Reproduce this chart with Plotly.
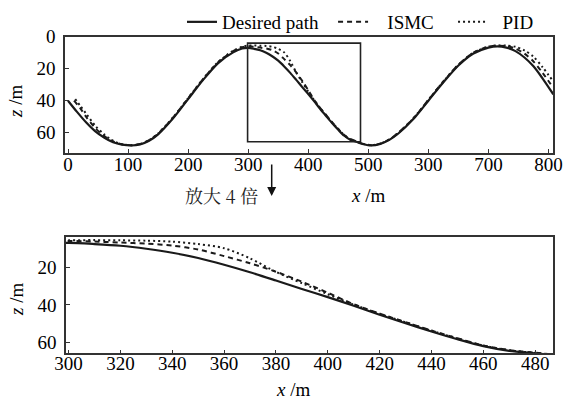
import plotly.graph_objects as go
from plotly.subplots import make_subplots

# ---------------- data ----------------
X_DESIRED = [0, 15, 30, 45, 60, 75, 90, 105, 120, 135, 150, 175, 200, 225, 250, 275, 290, 300,
             310, 320, 330, 340, 350, 360, 370, 380, 390, 400, 410, 420, 430, 440, 450, 460, 470, 480,
             492, 505, 520, 535, 550, 575, 600, 625, 650, 675, 700, 715, 730, 745, 760, 775, 790, 808]
Z_DESIRED = [40, 47, 53.5, 59, 63, 66, 67.5, 68, 67.3, 65, 61, 51, 39, 27, 16.5, 9.8, 7.4, 7.0,
             7.6, 8.5, 10.1, 12.2, 15.0, 18.6, 22.6, 27.0, 31.5, 35.8, 40.4, 45.2, 49.7, 54.1, 58.2, 61.9, 64.4, 65.7,
             67.2, 68, 67, 64.5, 60.5, 51.5, 40, 28.5, 18, 10.5, 6.8, 6.0, 6.8, 9.0, 13, 18.5, 26, 36]

X_ISMC = [10, 20, 30, 45, 60, 75, 90, 105, 120, 135, 150, 175, 200, 225, 250, 275, 290, 300,
          310, 320, 330, 340, 350, 360, 370, 380, 390, 400, 410, 420, 430, 440, 450, 460, 470, 480,
          492, 505, 520, 535, 550, 575, 600, 625, 650, 675, 700, 715, 730, 745, 760, 775, 790, 808]
Z_ISMC = [40, 44.5, 50, 57, 62, 65.5, 67.3, 67.8, 67.1, 64.7, 60.6, 50.5, 38.5, 26.5, 16, 9, 6.6, 6.0,
          6.3, 6.8, 7.4, 8.4, 10.5, 14, 17.8, 22.3, 27.6, 33.5, 39.6, 44.6, 49.1, 53.6, 57.7, 61.5, 64.0, 65.4,
          67.0, 67.8, 66.8, 64.2, 60.1, 51, 39.5, 28, 17.5, 10, 6.3, 5.6, 5.9, 7.4, 10.6, 15.5, 22.5, 32]

X_PID = [12, 20, 30, 45, 60, 75, 90, 105, 120, 135, 150, 175, 200, 225, 250, 275, 290, 300,
         310, 320, 330, 340, 350, 360, 370, 380, 390, 400, 410, 420, 430, 440, 450, 460, 470, 480,
         492, 505, 520, 535, 550, 575, 600, 625, 650, 675, 700, 715, 730, 745, 760, 775, 790, 808]
Z_PID = [39, 43, 48, 55.5, 61, 65, 67.2, 67.8, 67.1, 64.6, 60.5, 50.4, 38.4, 26.4, 15.8, 8.8, 6.3, 5.6,
         5.5, 5.6, 5.8, 6.3, 7.6, 9.8, 15.2, 22.4, 28.4, 34.3, 39.8, 44.7, 49.2, 53.7, 57.8, 61.6, 64.1, 65.5,
         67.0, 67.8, 66.8, 64.2, 60.1, 51, 39.5, 28, 17.5, 10, 6.2, 5.5, 5.5, 6.3, 8.6, 12.5, 19, 28]

SERIES_NAMES = ["Desired path", "ISMC", "PID"]

TOP_X_TICKVALS = [0, 100, 200, 300, 400, 500, 600, 700, 800]
TOP_X_TICKTEXT = ["0", "100", "200", "300", "400", "500", "300", "700", "800"]
TOP_Z_TICKS = [0, 20, 40, 60]
BOT_X_TICKS = [300, 320, 340, 360, 380, 400, 420, 440, 460, 480]
BOT_Z_TICKS = [20, 40, 60]

ZOOM_X = [299, 487]     # magnified window (x)
ZOOM_Z = [4, 65.7]      # magnified window (z)
TOP_X_RANGE = [-5, 808]
TOP_Z_RANGE = [72.5, 0]

# ---------------- figure ----------------
W, H = 563, 403
FONT = "Liberation Serif, Times New Roman, serif"
CJK_FONT = "Noto Serif CJK SC, Noto Sans CJK SC"
INK = "#1a1a1a"
NB = "\u00a0"

# legend labels padded so that the entries sit where the reference has them
legend_labels = [SERIES_NAMES[0] + NB * 2,
                 NB * 3 + SERIES_NAMES[1] + NB * 3,
                 NB * 2 + SERIES_NAMES[2]]

fig = make_subplots(rows=2, cols=1)

dashes = ["solid", "5px,4px", "2px,3px"]
data = [(X_DESIRED, Z_DESIRED), (X_ISMC, Z_ISMC), (X_PID, Z_PID)]

for row in (1, 2):
    for (xs, zs), label, dash in zip(data, legend_labels, dashes):
        fig.add_trace(go.Scatter(
            x=xs, y=zs, mode="lines", name=label,
            line=dict(color=INK, width=2.2 if dash == "solid" else 2, dash=dash,
                      shape="spline", smoothing=0.8),
            showlegend=(row == 1), hoverinfo="skip",
        ), row=row, col=1)


def px_x(p):
    return p / W


def px_y(p):
    return 1 - p / H


axis_common = dict(
    showline=True, mirror=True, linecolor="#333333", linewidth=1.6,
    ticks="inside", ticklen=4, tickwidth=1.3, tickcolor="#333333",
    showgrid=False, zeroline=False, automargin=False,
    tickfont=dict(family=FONT, size=19, color="black"),
)

fig.update_layout(
    width=W, height=H,
    margin=dict(l=0, r=0, t=0, b=0, autoexpand=False),
    paper_bgcolor="white", plot_bgcolor="white",
    font=dict(family=FONT, size=19, color="black"),
    xaxis=dict(domain=[px_x(65), px_x(553.3)], range=TOP_X_RANGE,
               tickmode="array", tickvals=TOP_X_TICKVALS, ticktext=TOP_X_TICKTEXT,
               ticklabelstandoff=-6, **axis_common),
    yaxis=dict(domain=[px_y(152.7), px_y(36.7)], range=TOP_Z_RANGE,
               tickmode="array", tickvals=TOP_Z_TICKS, ticklabelstandoff=4, **axis_common),
    xaxis2=dict(domain=[px_x(66), px_x(553.3)], range=ZOOM_X,
                tickmode="array", tickvals=BOT_X_TICKS, ticklabelstandoff=-8, **axis_common),
    yaxis2=dict(domain=[px_y(353.3), px_y(237.3)], range=[ZOOM_Z[1], ZOOM_Z[0]],
                tickmode="array", tickvals=BOT_Z_TICKS, ticklabelstandoff=4, **axis_common),
    legend=dict(orientation="h", x=px_x(182), y=px_y(22), xanchor="left", yanchor="middle",
                font=dict(family=FONT, size=19, color="black"), bgcolor="rgba(0,0,0,0)",
                itemwidth=30, tracegroupgap=0),
)

# magnified-region rectangle on the top plot
fig.add_shape(type="rect", xref="x", yref="y",
              x0=ZOOM_X[0], x1=ZOOM_X[1], y0=ZOOM_Z[0], y1=ZOOM_Z[1],
              line=dict(color="#222222", width=1.6))

ann_font = dict(family=FONT, size=19, color="black")
fig.add_annotation(text="<i>x</i> /m", xref="paper", yref="paper", x=px_x(368), y=px_y(195),
                   showarrow=False, xanchor="center", yanchor="middle", font=ann_font)
fig.add_annotation(text="<i>x</i> /m", xref="paper", yref="paper", x=px_x(293), y=px_y(389),
                   showarrow=False, xanchor="center", yanchor="middle", font=ann_font)
fig.add_annotation(text="<i>z</i> /m", xref="paper", yref="paper", x=px_x(16), y=px_y(102),
                   showarrow=False, textangle=-90, xanchor="center", yanchor="middle", font=ann_font)
fig.add_annotation(text="<i>z</i> /m", xref="paper", yref="paper", x=px_x(16), y=px_y(300),
                   showarrow=False, textangle=-90, xanchor="center", yanchor="middle", font=ann_font)
fig.add_annotation(text="放大 4 倍", xref="paper", yref="paper", x=px_x(221), y=px_y(195),
                   showarrow=False, xanchor="center", yanchor="middle",
                   font=dict(family=CJK_FONT, size=18, color="#222222"))
fig.add_annotation(text="", xref="paper", yref="paper", x=px_x(271.7), y=px_y(196),
                   ax=0, ay=-33, showarrow=True, arrowhead=2, arrowsize=1.2, arrowwidth=1.5,
                   arrowcolor="#111111")

fig.write_html("out.html", config={"displayModeBar": False},
               post_script="document.body.style.margin='0px';")
